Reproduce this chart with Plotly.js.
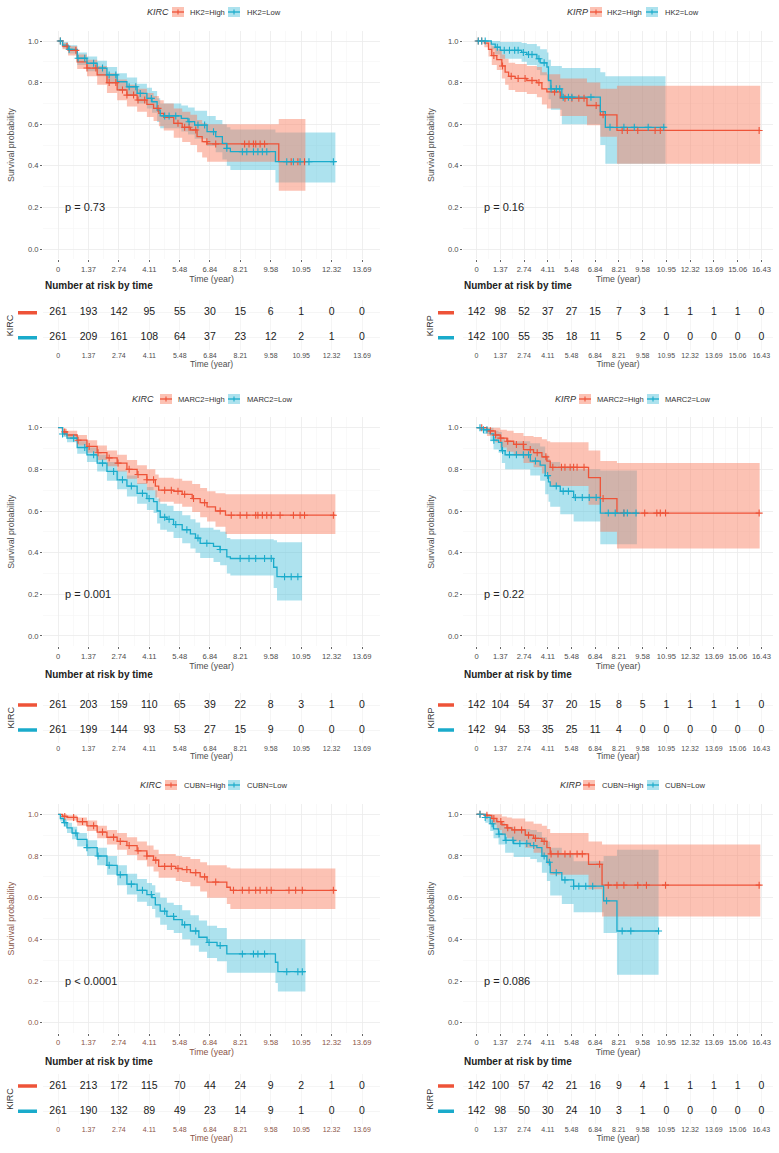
<!DOCTYPE html>
<html>
<head>
<meta charset="utf-8">
<script src="https://cdn.plot.ly/plotly-3.0.1.min.js"></script>
<style>html,body{margin:0;padding:0;background:#fff}</style>
</head>
<body>
<div id="chart" style="width:779px;height:1153px"></div>
<script>
// Kaplan-Meier panels: KIRC / KIRP split by HK2, MARC2, CUBN expression
// each step row: [time, survival, ci lower, ci upper]

const ticksKirc = [0, 1.37, 2.74, 4.11, 5.48, 6.84, 8.21, 9.58, 10.95, 12.32, 13.69];
const ticksKirp = [0, 1.37, 2.74, 4.11, 5.48, 6.84, 8.21, 9.58, 10.95, 12.32, 13.69, 15.06, 16.43];
const survTicks = [0, 0.2, 0.4, 0.6, 0.8, 1.0];
const survTickText = ['0.0', '0.2', '0.4', '0.6', '0.8', '1.0'];

// ---- HK2 / KIRC ----
const hk2KircHigh = [[0,1,1,1],[0.2,0.975,0.96,0.99],[0.45,0.955,0.93,0.975],[0.86,0.90,0.865,0.935],[1.3,0.87,0.83,0.91],
  [1.76,0.837,0.79,0.88],[2.2,0.80,0.75,0.845],[2.66,0.765,0.715,0.815],[3.1,0.74,0.685,0.79],[3.56,0.716,0.66,0.77],
  [4.0,0.695,0.635,0.75],[4.3,0.676,0.615,0.735],[4.54,0.652,0.59,0.715],[4.76,0.633,0.57,0.70],[5.21,0.604,0.535,0.675],
  [5.59,0.585,0.515,0.66],[5.96,0.572,0.50,0.645],[6.26,0.54,0.465,0.62],[6.49,0.516,0.44,0.605],[6.71,0.505,0.42,0.60],
  [9.94,0.42,0.28,0.625],[11.14,0.42,0.28,0.625]];
const hk2KircLow = [[0,1,1,1],[0.2,0.98,0.965,0.995],[0.45,0.96,0.94,0.98],[0.86,0.917,0.885,0.945],[1.3,0.893,0.855,0.925],
  [1.76,0.87,0.83,0.905],[2.2,0.837,0.795,0.875],[2.66,0.804,0.76,0.845],[3.1,0.78,0.735,0.825],[3.56,0.748,0.70,0.795],
  [4.0,0.724,0.675,0.775],[4.23,0.708,0.655,0.76],[4.46,0.668,0.61,0.725],[4.6,0.64,0.58,0.70],[5.55,0.628,0.565,0.69],
  [5.85,0.612,0.55,0.68],[6.15,0.596,0.53,0.665],[6.71,0.564,0.495,0.64],[7.1,0.54,0.465,0.62],[7.4,0.508,0.43,0.60],
  [7.6,0.484,0.40,0.585],[7.76,0.468,0.38,0.575],[9.79,0.42,0.32,0.56],[12.49,0.42,0.32,0.56]];
const hk2KircHighCens = [0.1,0.4,0.8,1.3,1.7,2.3,2.6,2.9,3.1,3.4,3.6,3.9,4.5,5.4,5.7,5.9,6.2,6.7,7.1,8.4,8.6,8.8,8.9,9.1,9.3,10.5,10.8,11.1];
const hk2KircLowCens = [0.1,0.5,0.9,1.2,1.6,2.0,2.3,2.6,3.2,3.5,3.7,4.2,4.8,5.0,5.3,5.9,6.3,6.6,7.0,7.6,8.3,8.5,8.8,9.0,9.2,9.4,10.3,10.6,10.9,11.3,12.4];
const hk2KircRiskHigh = [261, 193, 142, 95, 55, 30, 15, 6, 1, 0, 0];
const hk2KircRiskLow = [261, 209, 161, 108, 64, 37, 23, 12, 2, 1, 0];

// ---- HK2 / KIRP ----
const hk2KirpHigh = [[0,1,1,1],[0.45,0.99,0.97,1],[0.69,0.96,0.925,0.995],[0.88,0.93,0.885,0.975],[1.17,0.91,0.86,0.96],
  [1.46,0.88,0.82,0.935],[1.65,0.85,0.79,0.915],[1.85,0.83,0.765,0.895],[2.23,0.82,0.755,0.89],[2.9,0.81,0.745,0.88],
  [3.48,0.80,0.73,0.875],[3.77,0.77,0.695,0.85],[4.06,0.755,0.675,0.84],[4.83,0.725,0.64,0.82],[6.37,0.69,0.595,0.80],
  [7.14,0.645,0.54,0.77],[8.1,0.57,0.41,0.785],[16.37,0.57,0.41,0.785]];
const hk2KirpLow = [[0,1,1,1],[0.85,0.985,0.96,1],[1.08,0.97,0.935,1],[1.37,0.955,0.915,0.995],[2.6,0.945,0.90,0.99],
  [2.9,0.935,0.885,0.985],[3.48,0.915,0.86,0.975],[3.67,0.895,0.835,0.96],[4.06,0.875,0.81,0.945],[4.15,0.81,0.72,0.91],
  [4.29,0.77,0.67,0.88],[4.92,0.73,0.60,0.87],[7.14,0.66,0.50,0.85],[7.43,0.585,0.41,0.83],[10.9,0.585,0.41,0.83]];
const hk2KirpHighCens = [0.1,0.3,1.0,1.5,2.0,2.4,2.8,3.2,3.6,4.5,5.1,5.5,5.9,6.2,6.9,7.3,8.4,8.7,9.3,10.3,10.6,16.3];
const hk2KirpLowCens = [0.1,0.3,0.5,1.2,1.6,1.9,2.2,2.4,2.7,3.0,3.2,3.6,3.9,4.3,4.6,4.8,5.0,5.3,5.5,6.6,7.7,8.5,9.1,9.9,10.8];
const hk2KirpRiskHigh = [142, 98, 52, 37, 27, 15, 7, 3, 1, 1, 1, 1, 0];
const hk2KirpRiskLow = [142, 100, 55, 35, 18, 11, 5, 2, 0, 0, 0, 0, 0];

// ---- MARC2 / KIRC ----
const marc2KircHigh = [[0,1,1,1],[0.2,0.98,0.97,0.995],[0.4,0.965,0.95,0.985],[0.86,0.94,0.915,0.965],[1.3,0.91,0.88,0.94],
  [1.76,0.88,0.845,0.915],[2.2,0.855,0.815,0.89],[2.66,0.83,0.79,0.87],[3.1,0.80,0.755,0.845],[3.56,0.775,0.73,0.82],
  [4.0,0.75,0.70,0.80],[4.38,0.72,0.665,0.775],[4.53,0.70,0.645,0.76],[5.21,0.695,0.635,0.755],[5.59,0.68,0.62,0.745],
  [6.04,0.66,0.595,0.73],[6.4,0.64,0.57,0.71],[6.71,0.62,0.55,0.695],[7.09,0.60,0.525,0.685],[7.54,0.58,0.49,0.68],
  [12.49,0.58,0.49,0.68]];
const marc2KircLow = [[0,1,1,1],[0.2,0.97,0.955,0.985],[0.4,0.95,0.93,0.97],[0.86,0.905,0.875,0.935],[1.3,0.87,0.835,0.905],
  [1.76,0.83,0.79,0.87],[2.2,0.79,0.745,0.835],[2.66,0.75,0.705,0.795],[3.1,0.72,0.67,0.77],[3.56,0.685,0.635,0.735],
  [4.0,0.66,0.605,0.715],[4.3,0.645,0.59,0.70],[4.46,0.60,0.54,0.66],[4.6,0.57,0.51,0.635],[4.9,0.56,0.50,0.625],
  [5.2,0.535,0.47,0.60],[5.59,0.51,0.445,0.58],[5.96,0.49,0.42,0.56],[6.19,0.47,0.40,0.545],[6.4,0.445,0.375,0.52],
  [7.0,0.43,0.355,0.51],[7.3,0.415,0.34,0.50],[7.6,0.38,0.30,0.47],[7.76,0.372,0.29,0.465],[9.71,0.33,0.23,0.46],
  [9.86,0.285,0.17,0.45],[10.99,0.285,0.17,0.45]];
const marc2KircHighCens = [0.3,0.9,1.4,1.8,2.3,2.7,3.2,3.6,4.0,4.3,4.8,5.1,5.4,5.7,6.1,6.6,7.3,7.8,8.2,8.5,8.9,9.0,9.2,9.4,9.6,10.0,10.6,10.9,11.1,12.4];
const marc2KircLowCens = [0.2,0.7,1.2,1.6,2.0,2.5,2.9,3.3,3.8,4.1,4.8,5.0,5.3,5.8,6.3,6.7,7.3,8.2,8.6,8.9,9.3,9.6,10.2,10.5,10.8];
const marc2KircRiskHigh = [261, 203, 159, 110, 65, 39, 22, 8, 3, 1, 0];
const marc2KircRiskLow = [261, 199, 144, 93, 53, 27, 15, 9, 0, 0, 0];

// ---- MARC2 / KIRP ----
const marc2KirpHigh = [[0,1,1,1],[0.6,0.985,0.96,1],[1.08,0.965,0.93,1],[1.37,0.95,0.905,0.99],[1.75,0.935,0.885,0.985],
  [2.14,0.92,0.865,0.975],[2.71,0.895,0.83,0.96],[3.29,0.88,0.81,0.955],[3.77,0.86,0.78,0.945],[4.06,0.84,0.755,0.935],
  [4.25,0.81,0.72,0.93],[6.46,0.76,0.63,0.89],[7.14,0.66,0.50,0.84],[8.1,0.59,0.42,0.83],[16.33,0.59,0.42,0.83]];
const marc2KirpLow = [[0,1,1,1],[0.4,0.99,0.97,1],[0.79,0.97,0.935,1],[0.98,0.94,0.895,0.985],[1.27,0.93,0.88,0.98],
  [1.46,0.89,0.83,0.95],[1.65,0.87,0.80,0.935],[3.1,0.84,0.77,0.925],[3.67,0.82,0.745,0.91],[3.96,0.77,0.68,0.87],
  [4.15,0.74,0.645,0.85],[4.25,0.72,0.62,0.835],[4.83,0.695,0.585,0.815],[5.6,0.665,0.55,0.80],[7.14,0.59,0.44,0.795],
  [9.25,0.59,0.44,0.795]];
const marc2KirpHighCens = [0.3,0.8,1.1,1.4,1.8,2.3,2.7,3.1,3.5,4.0,4.4,4.9,5.1,5.4,5.6,5.8,6.2,7.3,8.5,9.7,10.4,10.6,10.9,16.3];
const marc2KirpLowCens = [0.2,0.4,0.6,1.0,1.5,1.9,2.3,2.7,3.0,3.4,4.1,4.6,5.0,5.3,5.7,6.1,6.5,6.9,7.6,8.0,8.5,8.7,9.2];
const marc2KirpRiskHigh = [142, 104, 54, 37, 20, 15, 8, 5, 1, 1, 1, 1, 0];
const marc2KirpRiskLow = [142, 94, 53, 35, 25, 11, 4, 0, 0, 0, 0, 0, 0];

// ---- CUBN / KIRC ----
const cubnKircHigh = [[0,1,1,1],[0.2,0.99,0.98,1],[0.4,0.985,0.97,0.995],[0.86,0.965,0.945,0.985],[1.3,0.945,0.92,0.97],
  [1.76,0.915,0.885,0.945],[2.2,0.89,0.855,0.925],[2.66,0.87,0.83,0.91],[3.1,0.85,0.805,0.89],[3.56,0.825,0.78,0.87],
  [4.0,0.80,0.75,0.85],[4.3,0.78,0.725,0.83],[4.53,0.75,0.695,0.81],[5.3,0.74,0.68,0.80],[5.59,0.735,0.675,0.795],
  [5.96,0.72,0.655,0.785],[6.4,0.70,0.63,0.77],[6.71,0.675,0.60,0.755],[7.6,0.65,0.57,0.745],[7.76,0.635,0.545,0.74],
  [12.49,0.635,0.545,0.74]];
const cubnKircLow = [[0,1,1,1],[0.1,0.98,0.965,0.995],[0.25,0.96,0.94,0.98],[0.4,0.935,0.91,0.96],[0.63,0.91,0.88,0.94],
  [0.86,0.88,0.845,0.91],[1.3,0.84,0.80,0.875],[1.76,0.80,0.755,0.84],[2.2,0.755,0.71,0.80],[2.66,0.71,0.66,0.755],
  [3.1,0.665,0.615,0.715],[3.56,0.635,0.58,0.69],[4.0,0.615,0.56,0.67],[4.23,0.60,0.545,0.66],[4.38,0.565,0.505,0.625],
  [4.6,0.535,0.47,0.60],[4.9,0.51,0.445,0.575],[5.21,0.495,0.43,0.565],[5.59,0.47,0.40,0.54],[5.96,0.44,0.37,0.515],
  [6.34,0.41,0.34,0.49],[6.71,0.385,0.31,0.465],[7.16,0.37,0.295,0.455],[7.6,0.33,0.24,0.40],[9.79,0.29,0.19,0.40],
  [9.9,0.245,0.15,0.40],[11.14,0.245,0.15,0.40]];
const cubnKircHighCens = [0.3,0.7,1.1,1.6,2.0,2.5,2.8,3.2,3.6,4.0,4.4,4.8,5.1,5.4,5.8,6.2,6.6,7.1,7.9,8.3,8.6,8.9,9.1,9.4,9.6,10.4,10.7,11.0,12.4];
const cubnKircLowCens = [0.3,0.8,1.3,1.8,2.3,2.8,3.3,3.8,4.2,4.8,5.2,5.7,6.2,6.8,7.3,8.3,8.8,9.0,9.3,10.3,10.8,11.0];
const cubnKircRiskHigh = [261, 213, 172, 115, 70, 44, 24, 9, 2, 1, 0];
const cubnKircRiskLow = [261, 190, 132, 89, 49, 23, 14, 9, 1, 0, 0];

// ---- CUBN / KIRP ----
const cubnKirpHigh = [[0,1,1,1],[0.6,0.995,0.985,1],[0.88,0.98,0.95,1],[1.17,0.965,0.925,1],[1.46,0.95,0.90,0.99],
  [1.75,0.935,0.885,0.985],[2.04,0.925,0.87,0.98],[2.81,0.90,0.84,0.965],[3.29,0.885,0.815,0.955],[3.77,0.87,0.795,0.945],
  [4.06,0.84,0.76,0.93],[4.25,0.81,0.71,0.91],[6.46,0.76,0.64,0.87],[7.24,0.66,0.51,0.855],[16.37,0.66,0.51,0.855]];
const cubnKirpLow = [[0,1,1,1],[0.5,0.985,0.96,1],[0.79,0.955,0.92,0.995],[0.98,0.93,0.885,0.975],[1.27,0.905,0.855,0.96],
  [1.65,0.875,0.815,0.94],[2.14,0.86,0.795,0.93],[3.1,0.85,0.785,0.925],[3.48,0.84,0.77,0.915],[3.77,0.80,0.72,0.89],
  [4.06,0.77,0.68,0.87],[4.25,0.72,0.61,0.84],[4.92,0.685,0.57,0.81],[5.6,0.655,0.53,0.775],[7.33,0.585,0.43,0.80],
  [8.1,0.44,0.23,0.83],[10.5,0.44,0.23,0.83]];
const cubnKirpHighCens = [0.2,0.6,1.0,1.4,1.8,2.2,2.6,3.0,3.4,3.9,4.3,4.7,5.1,5.4,5.8,6.1,7.1,7.6,8.1,8.5,9.3,9.8,10.9,16.3];
const cubnKirpLowCens = [0.2,0.5,0.9,1.3,1.7,2.1,2.5,2.9,3.3,3.9,4.2,4.6,5.1,5.6,5.9,6.3,6.7,7.5,8.4,8.9,10.5];
const cubnKirpRiskHigh = [142, 100, 57, 42, 21, 16, 9, 4, 1, 1, 1, 1, 0];
const cubnKirpRiskLow = [142, 98, 50, 30, 24, 10, 3, 1, 0, 0, 0, 0, 0];

const panels = [
  {cancer: 'KIRC', gene: 'HK2', p: 'p = 0.73', hi: hk2KircHigh, lo: hk2KircLow, hiCens: hk2KircHighCens, loCens: hk2KircLowCens, riskHi: hk2KircRiskHigh, riskLo: hk2KircRiskLow, ticks: ticksKirc},
  {cancer: 'KIRP', gene: 'HK2', p: 'p = 0.16', hi: hk2KirpHigh, lo: hk2KirpLow, hiCens: hk2KirpHighCens, loCens: hk2KirpLowCens, riskHi: hk2KirpRiskHigh, riskLo: hk2KirpRiskLow, ticks: ticksKirp},
  {cancer: 'KIRC', gene: 'MARC2', p: 'p = 0.001', hi: marc2KircHigh, lo: marc2KircLow, hiCens: marc2KircHighCens, loCens: marc2KircLowCens, riskHi: marc2KircRiskHigh, riskLo: marc2KircRiskLow, ticks: ticksKirc},
  {cancer: 'KIRP', gene: 'MARC2', p: 'p = 0.22', hi: marc2KirpHigh, lo: marc2KirpLow, hiCens: marc2KirpHighCens, loCens: marc2KirpLowCens, riskHi: marc2KirpRiskHigh, riskLo: marc2KirpRiskLow, ticks: ticksKirp},
  {cancer: 'KIRC', gene: 'CUBN', p: 'p < 0.0001', hi: cubnKircHigh, lo: cubnKircLow, hiCens: cubnKircHighCens, loCens: cubnKircLowCens, riskHi: cubnKircRiskHigh, riskLo: cubnKircRiskLow, ticks: ticksKirc},
  {cancer: 'KIRP', gene: 'CUBN', p: 'p = 0.086', hi: cubnKirpHigh, lo: cubnKirpLow, hiCens: cubnKirpHighCens, loCens: cubnKirpLowCens, riskHi: cubnKirpRiskHigh, riskLo: cubnKirpRiskLow, ticks: ticksKirp}
];

// ---- look & geometry (pixels) ----
const W = 779, H = 1153;
const RED = '#EE5338', BLUE = '#1AABCB';
const RED_FILL = 'rgba(248,128,98,0.48)', BLUE_FILL = 'rgba(60,185,215,0.42)';
const FONT = 'Liberation Sans, Arial, sans-serif';
const TXT = '#4D4D4D';

const colGeom = [
  {x0: 43, x1: 380, range: [-0.68, 14.5], pX: 0.2, nrX: 43, riskTitleX: 10, bar: [18, 37]},
  {x0: 463, x1: 773, range: [-0.78, 17.1], pX: 0.3, nrX: 462, riskTitleX: 430, bar: [438, 454]}
];
const rowGeom = [
  {km: [30.6, 259.4], risk: [300.2, 350.2], nrY: 286},
  {km: [417.3, 646.4], risk: [692.5, 742.5], nrY: 674},
  {km: [803.9, 1033.1], risk: [1073.5, 1124], nrY: 1061}
];
// legend pieces: [title x, key1 x, label1 x, key2 x, label2 x], y
const legendGeom = [
  {xs: [145, 172, 188, 228, 245], y: 12},
  {xs: [565, 590, 605, 646, 663], y: 12},
  {xs: [130, 160, 176, 228, 245], y: 399},
  {xs: [553, 579, 595, 647, 663], y: 399},
  {xs: [138, 165, 182, 228, 245], y: 785},
  {xs: [558, 583, 600, 647, 663], y: 785}
];

const fx = px => px / W;
const fy = px => 1 - px / H;
const axName = (k, n) => n === 1 ? k + 'axis' : k + 'axis' + n;
const axRef = (k, n) => n === 1 ? k : k + n;

function stepAt(curve, t) {
  let s = curve[0][1];
  curve.forEach(d => { if (d[0] <= t) s = d[1]; });
  return s;
}

const traces = [];
const layout = {
  width: W, height: H,
  margin: {l: 0, r: 0, t: 0, b: 0},
  paper_bgcolor: '#fff', plot_bgcolor: '#fff',
  showlegend: false,
  font: {family: FONT, color: TXT},
  annotations: [], shapes: []
};

function note(o) {
  // every free text is centred vertically on its y
  layout.annotations.push(Object.assign({showarrow: false, yanchor: 'middle'}, o));
}

function bandTraces(curve, fill, xa, ya) {
  const t = curve.map(d => d[0]);
  return [
    {x: t, y: curve.map(d => d[2]), xaxis: xa, yaxis: ya, mode: 'lines', line: {width: 0, shape: 'hv'}, hoverinfo: 'skip'},
    {x: t, y: curve.map(d => d[3]), xaxis: xa, yaxis: ya, mode: 'lines', line: {width: 0, shape: 'hv'}, fill: 'tonexty', fillcolor: fill, hoverinfo: 'skip'}
  ];
}

panels.forEach((p, i) => {
  const col = colGeom[i % 2], row = rowGeom[Math.floor(i / 2)], lg = legendGeom[i];
  const km = 2 * i + 1, rk = 2 * i + 2;
  const xa = axRef('x', km), ya = axRef('y', km);
  const xr = axRef('x', rk), yr = axRef('y', rk);
  const axisTxt = i === 4 ? '#8A5446' : TXT;   // bottom-left panel prints its axis text brownish
  const minorX = p.ticks.slice(0, -1).map((v, j) => (v + p.ticks[j + 1]) / 2);

  // survival curves
  traces.push(...bandTraces(p.lo, BLUE_FILL, xa, ya));
  traces.push(...bandTraces(p.hi, RED_FILL, xa, ya));
  [[p.hi, RED], [p.lo, BLUE]].forEach(([curve, color]) => {
    traces.push({x: curve.map(d => d[0]), y: curve.map(d => d[1]), xaxis: xa, yaxis: ya, mode: 'lines',
      line: {color: color, width: 1.3, shape: 'hv'}});
  });
  [[p.hi, p.hiCens, RED], [p.lo, p.loCens, BLUE]].forEach(([curve, cens, color]) => {
    traces.push({x: cens, y: cens.map(c => stepAt(curve, c)), xaxis: xa, yaxis: ya, mode: 'markers',
      marker: {symbol: 'cross-thin', size: 5, line: {color: color, width: 1.1}}});
  });

  // risk table
  [[p.riskHi, 2], [p.riskLo, 1]].forEach(([vals, yy]) => {
    traces.push({x: p.ticks, y: vals.map(() => yy), text: vals.map(String), xaxis: xr, yaxis: yr,
      mode: 'text', textfont: {size: 10.5, color: '#1a1a1a'}, cliponaxis: false, hoverinfo: 'skip'});
  });

  const gridX = {showgrid: true, gridcolor: '#EBEBEB', gridwidth: 0.8, zeroline: false, showline: false};
  layout[axName('x', km)] = Object.assign({
    domain: [fx(col.x0), fx(col.x1)], range: col.range, anchor: ya,
    tickmode: 'array', tickvals: p.ticks, ticktext: p.ticks.map(String),
    ticks: 'outside', ticklen: 2, tickcolor: '#666', tickfont: {size: 7.6, color: axisTxt},
    minor: {tickmode: 'array', tickvals: minorX, showgrid: true, gridcolor: '#F5F5F5', gridwidth: 0.6, ticks: ''},
    title: {text: 'Time (year)', font: {size: 8.8, color: axisTxt}, standoff: 1}
  }, gridX);
  layout[axName('y', km)] = Object.assign({
    domain: [fy(row.km[1]), fy(row.km[0])], range: [-0.05, 1.05], anchor: xa,
    tickmode: 'array', tickvals: survTicks, ticktext: survTickText,
    ticks: 'outside', ticklen: 2, tickcolor: '#666', tickfont: {size: 7.6, color: axisTxt},
    minor: {tickmode: 'array', tickvals: [0.1, 0.3, 0.5, 0.7, 0.9], showgrid: true, gridcolor: '#F5F5F5', gridwidth: 0.6, ticks: ''},
    title: {text: 'Survival probability', font: {size: 8.8, color: axisTxt}, standoff: 11}
  }, gridX);
  layout[axName('x', rk)] = {
    domain: [fx(col.x0), fx(col.x1)], range: col.range, anchor: yr,
    tickmode: 'array', tickvals: p.ticks, ticktext: p.ticks.map(String),
    ticks: '', tickfont: {size: 7, color: axisTxt},
    showgrid: true, gridcolor: '#F2F2F2', gridwidth: 0.8, zeroline: false, showline: false,
    title: {text: 'Time (year)', font: {size: 8.5, color: axisTxt}, standoff: 1}
  };
  layout[axName('y', rk)] = {
    domain: [fy(row.risk[1]), fy(row.risk[0])], range: [0.5, 2.5], anchor: xr,
    tickmode: 'array', tickvals: [1, 2], showticklabels: false, ticks: '',
    showgrid: true, gridcolor: '#F2F2F2', gridwidth: 0.8, zeroline: false, showline: false
  };

  // risk table strata keys and title
  [[2, RED], [1, BLUE]].forEach(([yy, color]) => {
    layout.shapes.push({type: 'line', xref: 'paper', yref: yr, x0: fx(col.bar[0]), x1: fx(col.bar[1]), y0: yy, y1: yy,
      line: {color: color, width: 3.5}});
  });
  note({xref: 'paper', yref: 'paper', x: fx(col.riskTitleX), y: fy((row.risk[0] + row.risk[1]) / 2), xanchor: 'center',
    text: p.cancer, textangle: -90, font: {size: 9, color: '#333'}});

  // p value and risk table heading
  note({xref: xa, yref: ya, x: col.pX, y: 0.2, xanchor: 'left', text: p.p, font: {size: 11, color: '#222'}});
  note({xref: 'paper', yref: 'paper', x: fx(col.nrX), y: fy(row.nrY), xanchor: 'left', text: '<b>Number at risk by time</b>',
    font: {size: 10, color: '#222'}});

  // legend (drawn by hand to match ggplot key size)
  const ly = lg.y;
  note({xref: 'paper', yref: 'paper', x: fx(lg.xs[0]), y: fy(ly), xanchor: 'left', text: '<i>' + p.cancer + '</i>',
    font: {size: 9, color: '#333'}});
  [[lg.xs[1], lg.xs[2], RED, RED_FILL, p.gene + '=High'], [lg.xs[3], lg.xs[4], BLUE, BLUE_FILL, p.gene + '=Low']].forEach(([kx, tx, color, fill, label]) => {
    layout.shapes.push({type: 'rect', xref: 'paper', yref: 'paper', x0: fx(kx), x1: fx(kx + 12), y0: fy(ly + 5), y1: fy(ly - 5),
      fillcolor: fill, line: {width: 0}});
    layout.shapes.push({type: 'line', xref: 'paper', yref: 'paper', x0: fx(kx), x1: fx(kx + 12), y0: fy(ly), y1: fy(ly),
      line: {color: color, width: 1.3}});
    layout.shapes.push({type: 'line', xref: 'paper', yref: 'paper', x0: fx(kx + 6), x1: fx(kx + 6), y0: fy(ly + 2.5), y1: fy(ly - 2.5),
      line: {color: color, width: 1.1}});
    note({xref: 'paper', yref: 'paper', x: fx(tx), y: fy(ly), xanchor: 'left', text: label, font: {size: 7.6, color: '#333'}});
  });
});

traces.forEach(t => { t.showlegend = false; });
Plotly.newPlot('chart', traces, layout, {displayModeBar: false, staticPlot: true});
</script>
</body>
</html>
